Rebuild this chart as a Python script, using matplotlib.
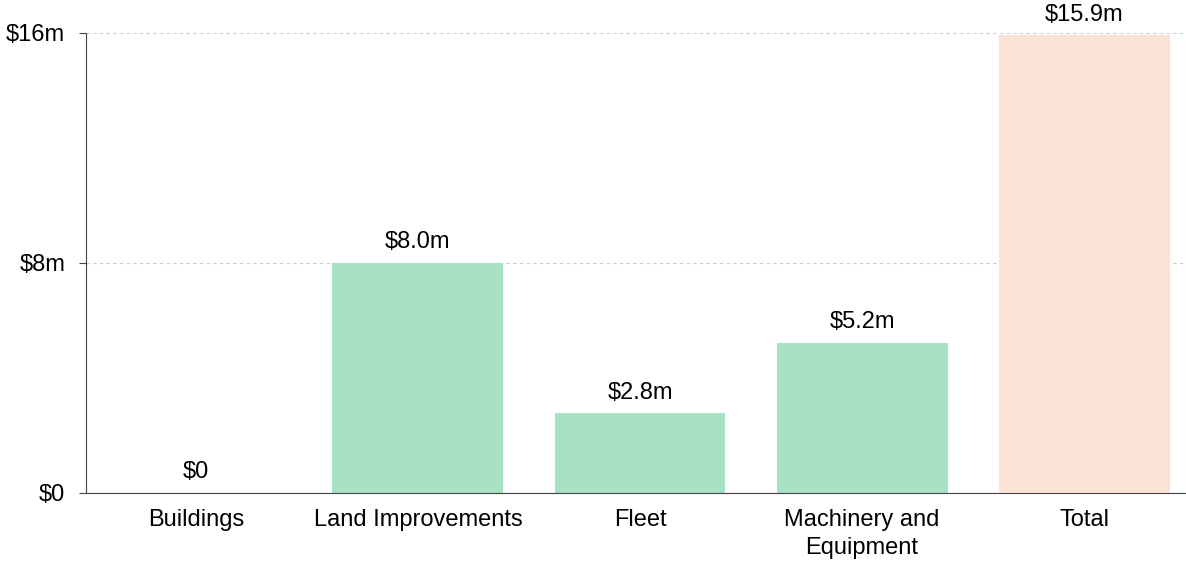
import matplotlib.pyplot as plt

categories = ['Buildings', 'Land Improvements', 'Fleet', 'Machinery and\nEquipment', 'Total']
values = [0.0, 8.0, 2.75, 5.2, 15.9]
value_labels = ['$0', '$8.0m', '$2.8m', '$5.2m', '$15.9m']
colors = ['#a8e2c4', '#a8e2c4', '#a8e2c4', '#a8e2c4', '#fbe2d5']
yticks = [0, 8, 16]
ytick_labels = ['$0', '$8m', '$16m']

plt.rcParams['font.family'] = ['Liberation Sans', 'DejaVu Sans']

fig = plt.figure(figsize=(11.86, 5.63), dpi=100)
ax = fig.add_axes([86 / 1186, 70.5 / 563, 1100 / 1186, 460 / 563])

x = list(range(len(categories)))
bars = ax.bar(x, values, width=0.77, color=colors, zorder=2)

for xi, v, lab in zip(x, values, value_labels):
    ax.annotate(lab, (xi, v), xytext=(0, 7), textcoords='offset points',
                ha='center', va='bottom', fontsize=17, clip_on=False)

ax.set_xlim(-0.495, 4.459)
ax.set_ylim(0, 16)
ax.set_xticks(x)
ax.set_xticklabels(categories, fontsize=17, linespacing=1.35)
ax.set_yticks(yticks)
ax.set_yticklabels(ytick_labels, fontsize=17)
ax.tick_params(axis='x', length=0, pad=12)
ax.tick_params(axis='y', length=5, pad=10, color='#444444')

ax.grid(axis='y', linestyle=(0, (3, 3)), color='#cccccc', linewidth=0.8, zorder=0)
ax.spines['top'].set_visible(False)
ax.spines['right'].set_visible(False)
ax.spines['left'].set_color('#444444')
ax.spines['bottom'].set_color('#444444')

fig.savefig('out.png', dpi=100)
